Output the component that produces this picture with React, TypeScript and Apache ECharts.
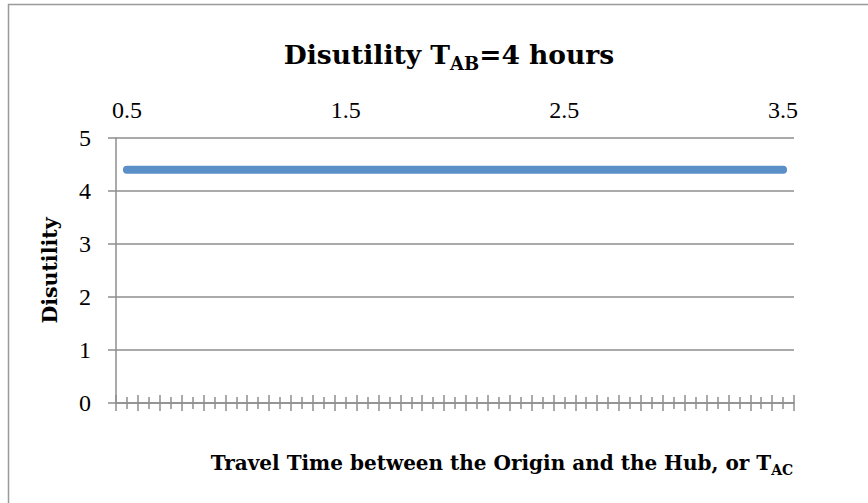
import React, { useEffect, useRef } from "react";
import * as echarts from "echarts";

const categories: string[] = [
  "0.5", "0.6", "0.7", "0.8", "0.9", "1.0", "1.1", "1.2", "1.3", "1.4",
  "1.5", "1.6", "1.7", "1.8", "1.9", "2.0", "2.1", "2.2", "2.3", "2.4",
  "2.5", "2.6", "2.7", "2.8", "2.9", "3.0", "3.1", "3.2", "3.3", "3.4", "3.5",
];
const disutility: number[] = [
  4.4, 4.4, 4.4, 4.4, 4.4, 4.4, 4.4, 4.4, 4.4, 4.4,
  4.4, 4.4, 4.4, 4.4, 4.4, 4.4, 4.4, 4.4, 4.4, 4.4,
  4.4, 4.4, 4.4, 4.4, 4.4, 4.4, 4.4, 4.4, 4.4, 4.4, 4.4,
];
const yMin = 0;
const yMax = 5;
const yStep = 1;

const GRAY = "#8e8e8e";
const NUM_FONT = "'Liberation Serif', serif";
const BOLD_FONT = "'DejaVu Serif', serif";

export default function App() {
  const ref = useRef<HTMLDivElement>(null);
  useEffect(() => {
    if (!ref.current) return;
    const chart = echarts.init(ref.current, null, { renderer: "svg" });
    const tickAxis = (extra: any) => ({
      type: "category",
      gridIndex: 0,
      position: "bottom",
      data: categories,
      boundaryGap: true,
      axisLine: { show: false, onZero: false },
      axisLabel: { show: false },
      splitLine: { show: false },
      ...extra,
    });
    chart.setOption({
      animation: false,
      backgroundColor: "#ffffff",
      graphic: [
        {
          type: "rect",
          shape: { x: 8.5, y: 4.5, width: 1000, height: 1000 },
          style: { fill: "none", stroke: "#9a9a9a", lineWidth: 1.5 },
          silent: true,
        },
      ],
      title: [
        {
          text: "{a|Disutility T}{b|AB}{a|=4 hours}",
          left: 444,
          top: 36,
          textAlign: "center",
          textStyle: {
            rich: {
              a: { fontFamily: BOLD_FONT, fontWeight: "bold", fontSize: 26.5, color: "#000", verticalAlign: "top", lineHeight: 32 },
              b: { fontFamily: BOLD_FONT, fontWeight: "bold", fontSize: 18, color: "#000", verticalAlign: "top", padding: [13, 0, 0, 0], lineHeight: 20 },
            },
          },
        },
        {
          text: "{a|Travel Time between the Origin and the Hub, or T}{b|AC}",
          left: 497,
          top: 448,
          textAlign: "center",
          textStyle: {
            rich: {
              a: { fontFamily: BOLD_FONT, fontWeight: "bold", fontSize: 20, color: "#000", verticalAlign: "top", lineHeight: 24 },
              b: { fontFamily: BOLD_FONT, fontWeight: "bold", fontSize: 14, color: "#000", verticalAlign: "top", padding: [10, 0, 0, 0], lineHeight: 15 },
            },
          },
        },
      ],
      grid: { left: 116, top: 138, width: 678, height: 265, containLabel: false },
      xAxis: [
        tickAxis({
          axisLine: { show: true, onZero: false, lineStyle: { color: GRAY, width: 1.5 } },
          axisTick: { show: true, interval: 0, length: 8, inside: false, lineStyle: { color: GRAY, width: 1.5 } },
        }),
        {
          type: "category",
          gridIndex: 0,
          position: "top",
          data: categories,
          boundaryGap: true,
          axisLine: { show: false, onZero: false },
          axisTick: { show: false },
          splitLine: { show: false },
          axisLabel: {
            show: true,
            interval: 9,
            margin: 16,
            fontFamily: NUM_FONT,
            fontSize: 24,
            color: "#000",
          },
        },
        tickAxis({
          axisTick: { show: true, interval: 0, length: 8, inside: true, lineStyle: { color: GRAY, width: 1.5 } },
        }),
        tickAxis({
          axisTick: { show: true, interval: 0, length: 6, inside: false, alignWithLabel: true, lineStyle: { color: GRAY, width: 1.5 } },
        }),
        tickAxis({
          axisTick: { show: true, interval: 0, length: 6, inside: true, alignWithLabel: true, lineStyle: { color: GRAY, width: 1.5 } },
        }),
      ],
      yAxis: {
        type: "value",
        min: yMin,
        max: yMax,
        interval: yStep,
        name: "Disutility",
        nameLocation: "middle",
        nameRotate: 90,
        nameGap: 56,
        nameTextStyle: { fontFamily: BOLD_FONT, fontWeight: "bold", fontSize: 20.5, color: "#000" },
        axisLine: { show: true, lineStyle: { color: GRAY, width: 1.5 } },
        axisTick: { show: true, length: 8, inside: false, lineStyle: { color: GRAY, width: 1.5 } },
        splitLine: { show: true, lineStyle: { color: GRAY, width: 1.5 } },
        axisLabel: { margin: 25, fontFamily: NUM_FONT, fontSize: 24, color: "#000" },
      },
      series: [
        {
          type: "line",
          xAxisIndex: 0,
          yAxisIndex: 0,
          data: disutility,
          symbol: "none",
          lineStyle: { color: "#5b8fc8", width: 8, cap: "round" },
          itemStyle: { color: "#5b8fc8" },
        },
      ],
    });
    return () => chart.dispose();
  }, []);
  return (
    <div
      ref={ref}
      style={{ position: "fixed", left: 0, top: 0, width: 868, height: 503 }}
    />
  );
}
